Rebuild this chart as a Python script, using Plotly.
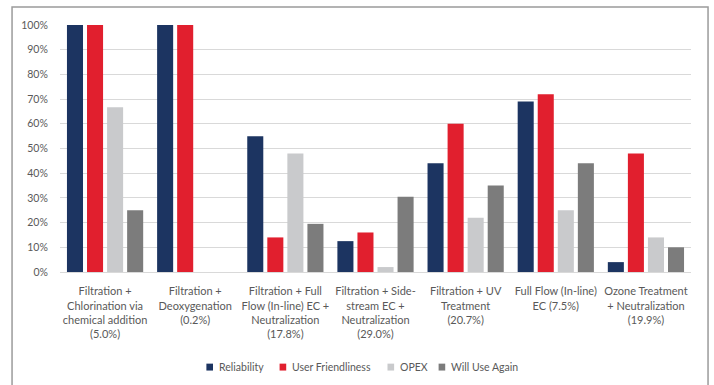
import plotly.graph_objects as go

# Treatment options (share of installations in parentheses)
categories = [
    "Filtration +<br>Chlorination via<br>chemical addition<br>(5.0%)",
    "Filtration +<br>Deoxygenation<br>(0.2%)",
    "Filtration + Full<br>Flow (In-line) EC +<br>Neutralization<br>(17.8%)",
    "Filtration + Side-<br>stream EC +<br>Neutralization<br>(29.0%)",
    "Filtration + UV<br>Treatment<br>(20.7%)",
    "Full Flow (In-line)<br>EC (7.5%)",
    "Ozone Treatment<br>+ Neutralization<br>(19.9%)",
]

# Rating shares per option
reliability = [1.00, 1.00, 0.55, 0.125, 0.44, 0.69, 0.04]
user_friendliness = [1.00, 1.00, 0.14, 0.16, 0.60, 0.72, 0.48]
opex = [0.667, 0.0, 0.48, 0.02, 0.22, 0.25, 0.14]
will_use_again = [0.25, 0.0, 0.195, 0.305, 0.35, 0.44, 0.10]

series_names = ["Reliability", "User Friendliness", "OPEX", "Will Use Again"]
series_values = [reliability, user_friendliness, opex, will_use_again]
series_colors = ["#1c3461", "#e11f2e", "#c9cacc", "#7c7c7c"]

font_family = "Lato, 'Open Sans', sans-serif"
text_color = "#595959"

fig = go.Figure()
for name, values, color in zip(series_names, series_values, series_colors):
    fig.add_trace(go.Bar(
        name=name,
        x=categories,
        y=values,
        marker=dict(color=color, line=dict(width=0)),
        showlegend=False,
    ))

# Compact legend row below the category labels: small swatch + label
legend_swatch_x = [0.232, 0.348, 0.519, 0.600]   # paper x of each swatch's left edge
legend_y = -0.385
swatch_w = 0.0105
swatch_h = 0.028
shapes = []
annotations = []
for name, color, sx in zip(series_names, series_colors, legend_swatch_x):
    shapes.append(dict(
        type="rect", xref="paper", yref="paper",
        x0=sx, x1=sx + swatch_w,
        y0=legend_y - swatch_h / 2, y1=legend_y + swatch_h / 2,
        line=dict(width=0), fillcolor=color,
    ))
    annotations.append(dict(
        xref="paper", yref="paper",
        x=sx + swatch_w + 0.006, y=legend_y,
        xanchor="left", yanchor="middle",
        text=name, showarrow=False,
        font=dict(size=10.5, color=text_color),
    ))

# Outer chart frame
shapes.append(dict(
    type="rect", xref="paper", yref="paper",
    x0=-0.076, x1=1.027, y0=-0.52, y1=1.073,
    line=dict(color="#9b9b9b", width=1.5),
    fillcolor="rgba(0,0,0,0)",
    layer="below",
))

fig.update_layout(
    width=714,
    height=385,
    margin=dict(l=60, r=23, t=25, b=113, autoexpand=False),
    paper_bgcolor="white",
    plot_bgcolor="white",
    barmode="group",
    bargap=0.11,
    bargroupgap=0.2,
    font=dict(family=font_family, size=11, color=text_color),
    showlegend=False,
    xaxis=dict(
        showgrid=False,
        showline=False,
        ticks="outside",
        ticklen=9,
        tickcolor="rgba(0,0,0,0)",
        tickangle=0,
        automargin=False,
        tickfont=dict(size=11, color=text_color),
    ),
    yaxis=dict(
        range=[0, 1.0],
        dtick=0.1,
        tickformat=".0%",
        showgrid=True,
        gridcolor="#d9d9d9",
        gridwidth=1,
        zeroline=True,
        zerolinecolor="#d9d9d9",
        zerolinewidth=1,
        showline=False,
        ticks="outside",
        ticklen=9,
        tickcolor="rgba(0,0,0,0)",
        automargin=False,
        tickfont=dict(size=10.5, color=text_color),
    ),
    shapes=shapes,
    annotations=annotations,
)

fig.write_html("out.html")
